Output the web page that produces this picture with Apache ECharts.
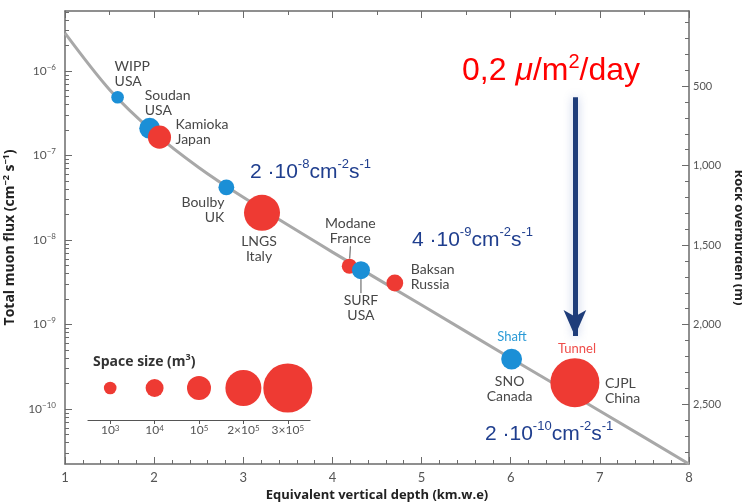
<!DOCTYPE html>
<html>
<head>
<meta charset="utf-8">
<script src="https://cdn.jsdelivr.net/npm/echarts@6/dist/echarts.min.js"></script>
<style>
html,body{margin:0;padding:0;background:#fff}
#chart{width:742px;height:504px}
</style>
</head>
<body>
<div id="chart"></div>
<script>
// underground labs
const labNames = ['WIPP', 'Soudan', 'Kamioka', 'Boulby', 'LNGS', 'Modane', 'SURF', 'Baksan', 'SNO', 'CJPL'];
const labCountries = ['USA', 'USA', 'Japan', 'UK', 'Italy', 'France', 'USA', 'Russia', 'Canada', 'China'];
const labDepth = [1.59, 1.95, 2.06, 2.81, 3.21, 4.19, 4.32, 4.70, 6.01, 6.72]; // km.w.e
const labFlux = [4.9e-7, 2.1e-7, 1.65e-7, 4.2e-8, 2.1e-8, 4.9e-9, 4.4e-9, 3.1e-9, 3.9e-10, 2.05e-10]; // cm-2 s-1
const labVolume = [1e3, 3e4, 7e4, 4e3, 2e5, 3e3, 1e4, 6e3, 3e4, 3e5]; // m3
const labAccess = ['shaft', 'shaft', 'tunnel', 'shaft', 'tunnel', 'tunnel', 'shaft', 'tunnel', 'shaft', 'tunnel'];

// flux vs depth curve
const curveDepth = [1, 1.5, 2, 2.5, 3, 4, 5, 6, 7, 8];
const curveFlux = [2.8e-6, 6.0e-7, 1.86e-7, 7.2e-8, 3.2e-8, 7.2e-9, 1.7e-9, 4.0e-10, 9.5e-11, 2.24e-11];

// space size legend
const legendVolume = [1e3, 1e4, 1e5, 2e5, 3e5];
const legendLabels = ['10{s|3}', '10{s|4}', '10{s|5}', '2×10{s|5}', '3×10{s|5}'];

// ticks
const fluxTicks = [-10, -9, -8, -7, -6];
const rockTicks = [500, 1000, 1500, 2000, 2500];

// arrow to CJPL
const arrowDepth = 6.72;
const arrowFlux = [4.9e-7, 7.3e-10];

const RED = '#ee3a33', BLUE = '#1b8fd6', NAVY = '#1f3e8e', AX = '#6b6b6b';
const FONT = 'Lato';
const TITLE = '"Open Sans"';
const ARIAL = '"Liberation Sans", Arial';

// symbol diameter for a space size (same scale as the legend)
const sizeStops = [[3, 12.6], [4, 18], [5, 24], [5.301, 36], [5.477, 49]];
function diam(vol) {
  const l = Math.log10(vol);
  for (let i = 1; i < sizeStops.length; i++) {
    if (l <= sizeStops[i][0] || i === sizeStops.length - 1) {
      const a = sizeStops[i - 1], b = sizeStops[i];
      return a[1] + (l - a[0]) / (b[0] - a[0]) * (b[1] - a[1]);
    }
  }
}

// label placement relative to the bubble centre
const labLabelPos = {
  WIPP: {align: 'left', dx: -3, dy: -23},
  Soudan: {align: 'left', dx: -5, dy: -25},
  Kamioka: {align: 'left', dx: 16, dy: -5},
  Boulby: {align: 'right', dx: -2, dy: 23},
  LNGS: {align: 'center', dx: -3, dy: 36},
  Modane: {align: 'center', dx: 1, dy: -35},
  SURF: {align: 'center', dx: 0, dy: 38},
  Baksan: {align: 'left', dx: 16, dy: -6},
  SNO: {align: 'center', dx: -2, dy: 30},
  CJPL: {align: 'left', dx: 30, dy: 8}
};

// minor log ticks
const minorFlux = [];
for (let n = -11; n <= -6; n++) {
  for (let k = 2; k <= 9; k++) {
    const v = n + Math.log10(k);
    if (v > -10.65 && v < -5.29) minorFlux.push(v);
  }
}
const minorRock = [];
for (let m = 100; m <= 2800; m += 100) minorRock.push(m);

const chart = echarts.init(document.getElementById('chart'));

const supRich = {
  b: {fontSize: 12, color: '#555', fontFamily: FONT, lineHeight: 16},
  s: {fontSize: 8, color: '#555', fontFamily: FONT, lineHeight: 9, verticalAlign: 'top'}
};

function fluxText(mant, exp) {
  return '{n|' + mant + ' ·10}{s|' + exp + '}{n|cm}{s|-2}{n|s}{s|-1}';
}
const fluxRich = {
  n: {fontSize: 21, fill: NAVY, fontFamily: ARIAL, lineHeight: 28},
  s: {fontSize: 13, fill: NAVY, fontFamily: ARIAL, lineHeight: 13, verticalAlign: 'top'}
};

const option = {
  backgroundColor: '#fff',
  animation: false,
  grid: [
    {left: 65, top: 11, width: 624, height: 453, outerBoundsMode: 'none', containLabel: false},
    {left: 88, top: 356, width: 222, height: 64, outerBoundsMode: 'none', containLabel: false}
  ],
  xAxis: [
    {
      type: 'value', gridIndex: 0, min: 1, max: 8, interval: 1, position: 'bottom',
      axisLine: {show: true, lineStyle: {color: AX, width: 1.5}},
      axisTick: {show: true, inside: true, length: 7, lineStyle: {color: AX}},
      minorTick: {show: true, splitNumber: 5, length: 4, lineStyle: {color: AX}},
      axisLabel: {color: '#555', fontSize: 13, margin: 7, fontFamily: FONT},
      splitLine: {show: false},
      name: 'Equivalent vertical depth (km.w.e)', nameLocation: 'middle', nameGap: 23,
      nameTextStyle: {fontWeight: 'bold', fontSize: 13, color: '#222', fontFamily: TITLE}
    },
    {
      type: 'value', gridIndex: 0, min: 1, max: 8, interval: 1, position: 'top',
      axisLine: {show: true, lineStyle: {color: AX, width: 1.5}},
      axisTick: {show: true, inside: true, length: 7, lineStyle: {color: AX}},
      minorTick: {show: true, splitNumber: 2, length: 4, lineStyle: {color: AX}},
      axisLabel: {show: false},
      splitLine: {show: false}
    },
    {
      type: 'category', gridIndex: 1, data: legendLabels, boundaryGap: true,
      axisLine: {show: true, lineStyle: {color: '#555', width: 1.2}},
      axisTick: {show: true, alignWithLabel: true, interval: 0, length: 4, lineStyle: {color: '#555'}},
      axisLabel: {margin: 4, interval: 0, hideOverlap: false, formatter: v => v, rich: {
        b: {fontSize: 12, color: '#555', fontFamily: FONT},
        s: {fontSize: 8, color: '#555', fontFamily: FONT, verticalAlign: 'top', lineHeight: 9}
      }, fontSize: 12, color: '#555', fontFamily: FONT},
      splitLine: {show: false}
    }
  ],
  yAxis: [
    {
      type: 'value', gridIndex: 0, min: -10.65, max: -5.29, position: 'left',
      axisLine: {show: true, lineStyle: {color: AX, width: 1.5}},
      axisTick: {show: true, inside: true, length: 7, customValues: fluxTicks, lineStyle: {color: AX}},
      axisLabel: {
        customValues: fluxTicks, margin: 9,
        formatter: v => '{b|10}{s|\u2212' + Math.abs(v) + '}',
        rich: supRich
      },
      splitLine: {show: false},
      name: '{t|Total muon flux (cm}{u|\u22122}{t| s}{u|\u22121}{t|)}',
      nameLocation: 'middle', nameRotate: 90, nameGap: 35,
      nameTextStyle: {rich: {
        t: {fontWeight: 'bold', fontSize: 14, color: '#222', fontFamily: TITLE, lineHeight: 17},
        u: {fontWeight: 'bold', fontSize: 9, color: '#222', fontFamily: TITLE, lineHeight: 10, verticalAlign: 'top'}
      }}
    },
    {
      type: 'value', gridIndex: 0, min: -10.65, max: -5.29, position: 'left',
      axisLine: {show: false},
      axisTick: {show: true, inside: true, length: 4, customValues: minorFlux, lineStyle: {color: AX}},
      axisLabel: {show: false},
      splitLine: {show: false}
    },
    {
      type: 'value', gridIndex: 0, min: 28, max: 2877, inverse: true, position: 'right',
      axisLine: {show: true, lineStyle: {color: AX, width: 1.5}},
      axisTick: {show: true, inside: true, length: 7, customValues: rockTicks, lineStyle: {color: AX}},
      axisLabel: {
        customValues: rockTicks, margin: 4, color: '#555', fontSize: 11, fontFamily: FONT,
        formatter: v => String(v).replace(/\B(?=(\d{3})+$)/, ',')
      },
      splitLine: {show: false},
      name: 'Rock overburden (m)', nameLocation: 'middle', nameRotate: -90, nameGap: 37,
      nameTextStyle: {fontWeight: 'bold', fontSize: 13, color: '#222', fontFamily: TITLE}
    },
    {
      type: 'value', gridIndex: 0, min: 28, max: 2877, inverse: true, position: 'right',
      axisLine: {show: false},
      axisTick: {show: true, inside: true, length: 4, customValues: minorRock, lineStyle: {color: AX}},
      axisLabel: {show: false},
      splitLine: {show: false}
    },
    {type: 'value', gridIndex: 1, min: 0, max: 1, show: false}
  ],
  series: [
    {
      type: 'line', xAxisIndex: 0, yAxisIndex: 0, smooth: 0.3, symbol: 'none',
      lineStyle: {color: '#a8a8a8', width: 3},
      data: curveDepth.map((d, i) => [d, Math.log10(curveFlux[i])]),
      silent: true, z: 1
    },
    {
      type: 'line', xAxisIndex: 0, yAxisIndex: 0, data: [], silent: true, z: 5,
      markLine: {
        silent: true, symbol: ['none', 'arrow'], symbolSize: [17, 26],
        label: {show: false},
        lineStyle: {color: '#1f3d7a', width: 5, type: 'solid',
          shadowBlur: 10, shadowColor: 'rgba(70,100,180,0.35)'},
        data: [[
          {coord: [arrowDepth, Math.log10(arrowFlux[0])]},
          {coord: [arrowDepth, Math.log10(arrowFlux[1])]}
        ]]
      }
    },
    {
      type: 'scatter', xAxisIndex: 0, yAxisIndex: 0, z: 3,
      symbolSize: v => diam(v[2]),
      data: labNames.map((n, i) => {
        const p = labLabelPos[n];
        const item = {
          name: n,
          value: [labDepth[i], Math.log10(labFlux[i]), labVolume[i]],
          itemStyle: {color: labAccess[i] === 'shaft' ? BLUE : RED, opacity: 1},
          label: {align: p.align, offset: [p.dx, p.dy]}
        };
        if (n === 'Modane' || n === 'SURF') {
          item.labelLine = {show: true, lineStyle: {color: '#555', width: 1}};
        }
        return item;
      }),
      label: {
        show: true, position: 'inside', verticalAlign: 'middle',
        color: '#474747', fontSize: 14, lineHeight: 15, fontFamily: FONT,
        formatter: p => p.name + '\n' + labCountries[p.dataIndex]
      },
      emphasis: {disabled: true}
    },
    {
      type: 'scatter', xAxisIndex: 2, yAxisIndex: 4,
      symbolSize: v => diam(v[2]),
      itemStyle: {color: RED, opacity: 1},
      data: legendVolume.map((v, i) => [i, 0.5, v]),
      emphasis: {disabled: true}
    }
  ],
  graphic: [
    {
      type: 'text', x: 462, y: 71, z: 10,
      style: {
        text: '{n|0,2 }{m|\u03bc}{n|/m}{p|2}{n|/day}', verticalAlign: 'middle',
        rich: {
          n: {fontSize: 32, fill: '#ff0000', fontFamily: ARIAL, lineHeight: 38},
          m: {fontSize: 32, fill: '#ff0000', fontFamily: ARIAL, fontStyle: 'italic', lineHeight: 38},
          p: {fontSize: 20, fill: '#ff0000', fontFamily: ARIAL, lineHeight: 20, verticalAlign: 'top'}
        }
      }
    },
    {type: 'text', x: 250, y: 172, z: 10,
      style: {text: fluxText('2', '-8'), rich: fluxRich, verticalAlign: 'middle'}},
    {type: 'text', x: 412, y: 240, z: 10,
      style: {text: fluxText('4', '-9'), rich: fluxRich, verticalAlign: 'middle'}},
    {type: 'text', x: 485, y: 434, z: 10,
      style: {text: fluxText('2', '-10'), rich: fluxRich, verticalAlign: 'middle'}},
    {type: 'text', x: 512, y: 337, z: 10,
      style: {text: 'Shaft', fill: '#2a9ad6', font: '13px Lato', align: 'center', verticalAlign: 'middle'}},
    {type: 'text', x: 577, y: 349, z: 10,
      style: {text: 'Tunnel', fill: '#ef4d4a', font: '13px Lato', align: 'center', verticalAlign: 'middle'}},
    {
      type: 'text', x: 93, y: 362, z: 10,
      style: {
        text: '{t|Space size (m}{u|3}{t|)}', verticalAlign: 'middle',
        rich: {
          t: {fontSize: 14, fontWeight: 'bold', fill: '#333', fontFamily: TITLE, lineHeight: 18},
          u: {fontSize: 9, fontWeight: 'bold', fill: '#333', fontFamily: TITLE, lineHeight: 10, verticalAlign: 'top'}
        }
      }
    }
  ]
};

chart.setOption(option);
window.onresize = function () {
  chart.resize();
};
</script>
</body>
</html>
